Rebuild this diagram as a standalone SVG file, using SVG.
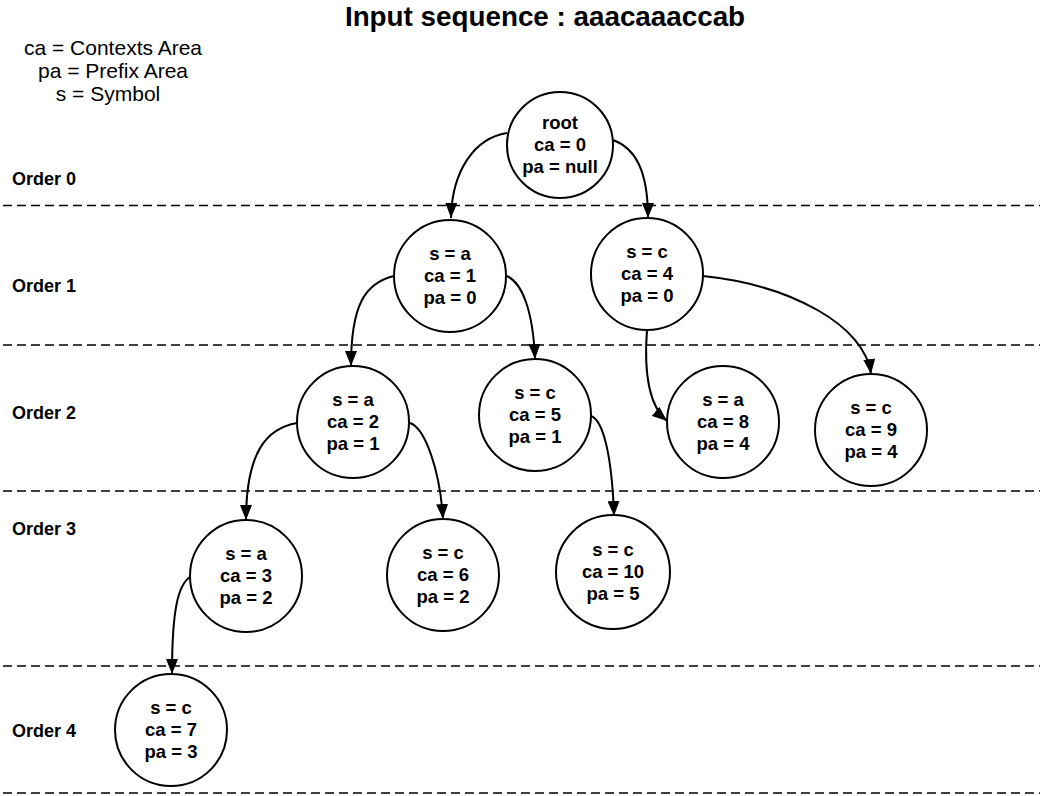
<svg xmlns="http://www.w3.org/2000/svg" width="1045" height="796" viewBox="0 0 1045 796">
  <style>
    .title { font-family: "Liberation Sans", Arial, sans-serif; font-weight: bold; font-size: 27.8px; fill: #000; }
    .legend { font-family: "Liberation Sans", Arial, sans-serif; font-size: 21px; fill: #000; }
    .order { font-family: "Liberation Sans", Arial, sans-serif; font-weight: bold; font-size: 18px; fill: #000; }
    .node circle { fill: #fff; stroke: #000; stroke-width: 2; }
    .node text { font-family: "Liberation Sans", Arial, sans-serif; font-weight: bold; font-size: 18.5px; fill: #000; text-anchor: middle; }
    .sep { stroke: #000; stroke-width: 1.3; stroke-dasharray: 9 5; fill: none; }
    .edge { fill: none; stroke: #000; stroke-width: 2; marker-end: url(#arrow); }
  </style>
  <defs>
    <marker id="arrow" markerUnits="userSpaceOnUse" markerWidth="16" markerHeight="12" refX="15" refY="6" orient="auto">
      <path d="M0,0 L15,6 L0,12 Z" fill="#000"/>
    </marker>
  </defs>

  <rect width="1045" height="796" fill="#fff"/>

  <!-- heading and legend -->
  <text class="title" x="545" y="26" text-anchor="middle">Input sequence : aaacaaaccab</text>
  <g id="legend">
    <text class="legend" x="113" y="55" text-anchor="middle">ca = Contexts Area</text>
    <text class="legend" x="113" y="78" text-anchor="middle">pa = Prefix Area</text>
    <text class="legend" x="108" y="101" text-anchor="middle">s = Symbol</text>
  </g>

  <!-- order bands -->
  <g id="separators">
    <line class="sep" x1="3" y1="205.5" x2="1040" y2="205.5"/>
    <line class="sep" x1="3" y1="345" x2="1040" y2="345"/>
    <line class="sep" x1="3" y1="491" x2="1040" y2="491"/>
    <line class="sep" x1="3" y1="666" x2="1040" y2="666"/>
    <line class="sep" x1="3" y1="793" x2="1040" y2="793"/>
  </g>
  <g id="order-labels">
    <text class="order" x="12" y="185">Order 0</text>
    <text class="order" x="12" y="292">Order 1</text>
    <text class="order" x="12" y="419">Order 2</text>
    <text class="order" x="12" y="535">Order 3</text>
    <text class="order" x="12" y="737">Order 4</text>
  </g>

  <!-- connectors -->
  <g id="connectors">
    <path class="edge" d="M507,133 C475,138 452,170 451,218"/>
    <path class="edge" d="M613,140 C635,148 648,170 648,218"/>
    <path class="edge" d="M394,276 C365,283 351,305 351,366"/>
    <path class="edge" d="M507,276 C522,283 533,310 535,359"/>
    <path class="edge" d="M703,276 C790,285 865,325 871,374"/>
    <path class="edge" d="M647,330 C644,370 648,405 667,421"/>
    <path class="edge" d="M297,423 C268,428 246,450 246,520"/>
    <path class="edge" d="M410,423 C425,428 440,470 443,519"/>
    <path class="edge" d="M591,416 C603,420 612,455 614,516"/>
    <path class="edge" d="M190,577 C178,585 172,610 172,674"/>
  </g>

  <!-- context tree nodes -->
  <g id="node-root" class="node">
    <circle cx="560" cy="145" r="53"/>
    <text x="560" y="129">root</text>
    <text x="560" y="151">ca = 0</text>
    <text x="560" y="173">pa = null</text>
  </g>
  <g id="node-ca1" class="node">
    <circle cx="450" cy="276" r="56"/>
    <text x="450" y="260">s = a</text>
    <text x="450" y="282">ca = 1</text>
    <text x="450" y="304">pa = 0</text>
  </g>
  <g id="node-ca4" class="node">
    <circle cx="647" cy="274" r="56"/>
    <text x="647" y="258">s = c</text>
    <text x="647" y="280">ca = 4</text>
    <text x="647" y="302">pa = 0</text>
  </g>
  <g id="node-ca2" class="node">
    <circle cx="353" cy="422" r="56"/>
    <text x="353" y="406">s = a</text>
    <text x="353" y="428">ca = 2</text>
    <text x="353" y="450">pa = 1</text>
  </g>
  <g id="node-ca5" class="node">
    <circle cx="535" cy="415" r="56"/>
    <text x="535" y="399">s = c</text>
    <text x="535" y="421">ca = 5</text>
    <text x="535" y="443">pa = 1</text>
  </g>
  <g id="node-ca8" class="node">
    <circle cx="723" cy="422" r="56"/>
    <text x="723" y="406">s = a</text>
    <text x="723" y="428">ca = 8</text>
    <text x="723" y="450">pa = 4</text>
  </g>
  <g id="node-ca9" class="node">
    <circle cx="871" cy="430" r="56"/>
    <text x="871" y="414">s = c</text>
    <text x="871" y="436">ca = 9</text>
    <text x="871" y="458">pa = 4</text>
  </g>
  <g id="node-ca3" class="node">
    <circle cx="246" cy="576" r="56"/>
    <text x="246" y="560">s = a</text>
    <text x="246" y="582">ca = 3</text>
    <text x="246" y="604">pa = 2</text>
  </g>
  <g id="node-ca6" class="node">
    <circle cx="443" cy="575" r="56"/>
    <text x="443" y="559">s = c</text>
    <text x="443" y="581">ca = 6</text>
    <text x="443" y="603">pa = 2</text>
  </g>
  <g id="node-ca10" class="node">
    <circle cx="613" cy="572" r="57"/>
    <text x="613" y="556">s = c</text>
    <text x="613" y="578">ca = 10</text>
    <text x="613" y="600">pa = 5</text>
  </g>
  <g id="node-ca7" class="node">
    <circle cx="171" cy="730" r="56"/>
    <text x="171" y="714">s = c</text>
    <text x="171" y="736">ca = 7</text>
    <text x="171" y="758">pa = 3</text>
  </g>
</svg>
